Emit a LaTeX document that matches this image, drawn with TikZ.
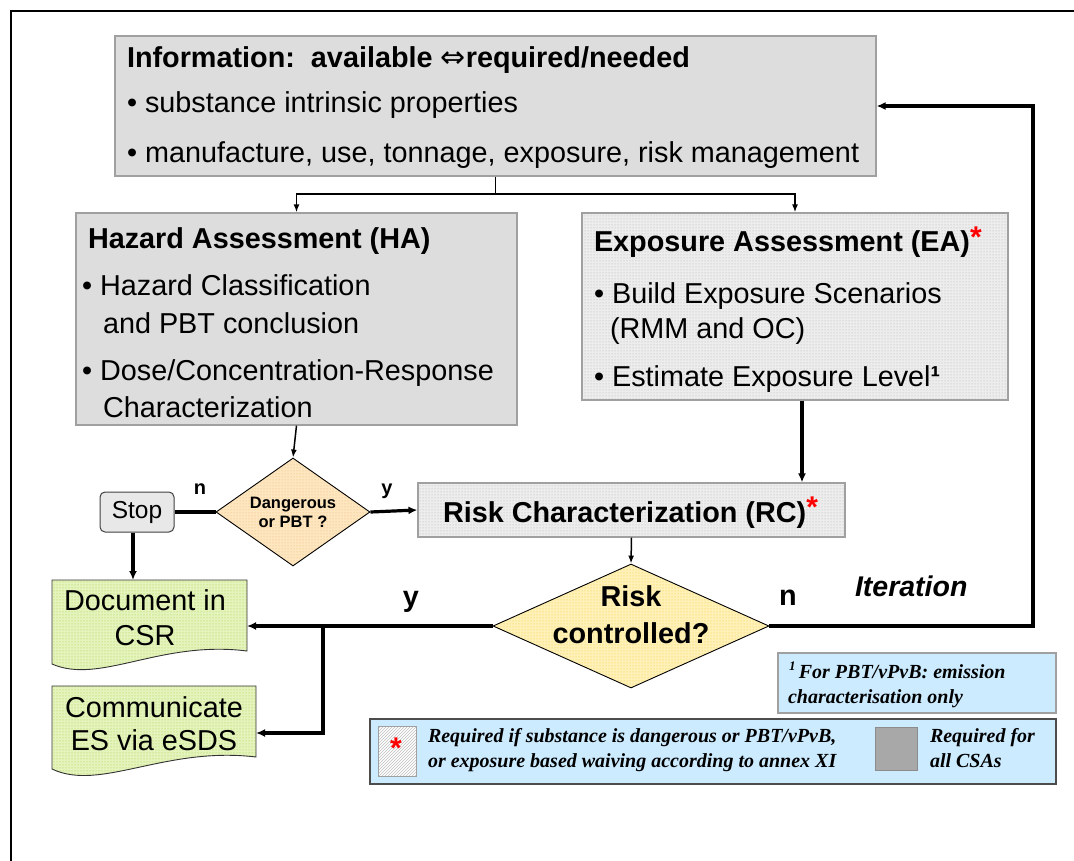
\documentclass[tikz,border=0pt]{standalone}
\usepackage{fontspec}
\setmainfont{Liberation Sans}
\newfontfamily\tnr{Liberation Serif}
\newfontfamily\dvs{DejaVu Sans}
\usetikzlibrary{arrows.meta,shapes.geometric,patterns,calc}
\newcommand\myfs[1]{\fontsize{#1}{#1}\selectfont}
\newcommand\redstar{{\color{red}\myfs{30}\raisebox{5pt}{*}}}
\definecolor{infogray}{HTML}{DDDDDD}
\definecolor{boxborder}{HTML}{A0A0A0}
\definecolor{dotbase}{HTML}{EDEDED}
\definecolor{dotgray}{HTML}{B0B0B0}
\definecolor{peachbase}{HTML}{FDE6C0}
\definecolor{peachdot}{HTML}{EFB868}
\definecolor{yellbase}{HTML}{FFF1B8}
\definecolor{yelldot}{HTML}{F2CB3A}
\definecolor{greenbase}{HTML}{E4F4BC}
\definecolor{greendot}{HTML}{A2CC3E}
\definecolor{lblue}{HTML}{CCEBFF}
\definecolor{stopfill}{HTML}{E8E8E8}
\definecolor{legendgray}{HTML}{A8A8A8}
\begin{document}
\begin{tikzpicture}[x=1pt,y=-1pt,
  txt/.style={anchor=base west,inner sep=0pt,outer sep=0pt},
  ctxt/.style={anchor=base,inner sep=0pt,outer sep=0pt},
  graybox/.style={draw=boxborder,line width=1.2pt,fill=infogray,inner sep=0pt},
  dotbox/.style={draw=boxborder,line width=1.2pt,preaction={fill=dotbase},pattern=dots,pattern color=dotgray,inner sep=0pt},
  peachdia/.style={diamond,draw=black,line width=0.9pt,preaction={fill=peachbase},pattern=dots,pattern color=peachdot,inner sep=0pt},
  yelldia/.style={diamond,draw=black,line width=0.9pt,preaction={fill=yellbase},pattern=dots,pattern color=yelldot,inner sep=0pt},
  docfill/.style={draw=black!80,line width=0.9pt,preaction={fill=greenbase},pattern=dots,pattern color=greendot},
  anchorbox/.style={inner sep=0pt,outer sep=0pt,draw=none},
  bluebox/.style={fill=lblue,draw=boxborder,line width=1.2pt,inner sep=0pt},
  thinarrow/.style={line width=1.5pt,-{Latex[length=8pt,width=6pt]}},
  thickarrow/.style={line width=3.2pt,-{Latex[length=9pt,width=8pt]}},
  thickline/.style={line width=3.2pt},
  thinline/.style={line width=1.5pt},
  bodyfont/.style={font=\myfs{28.8}},
  headfont/.style={font=\bfseries\myfs{28.8}},
  legfont/.style={font=\tnr\bfseries\itshape\myfs{20}}
]
\useasboundingbox (0,0) rectangle (1074,861);
% outer frame
\coordinate (fbl) at (11,861);
\coordinate (ftl) at (11,11);
\coordinate (ftr) at (1074,11);
\draw[line width=2pt] (fbl) -- (ftl) -- (ftr);

% Information box
\node[graybox,minimum width=761pt,minimum height=140pt] (info) at (495.5,106) {};
\node[txt,headfont] (infot) at (127,68) {Information:\ \ available {\dvs\mdseries\myfs{30}⇔}required/needed};
\node[txt,bodyfont] (infob1) at (127,113) {• substance intrinsic properties};
\node[txt,bodyfont] (infob2) at (127,163) {• manufacture, use, tonnage, exposure, risk management};

% Hazard assessment
\node[graybox,minimum width=441pt,minimum height=212pt] (ha) at (296.5,319) {};
\node[txt,headfont] (hat) at (88,249) {Hazard Assessment (HA)};
\node[txt,bodyfont] (hab1) at (82,295) {• Hazard Classification};
\node[txt,bodyfont] (hab1b) at (103,333) {and PBT conclusion};
\node[txt,bodyfont] (hab2) at (82,380) {• Dose/Concentration-Response};
\node[txt,bodyfont] (hab2b) at (103,417) {Characterization};

% Exposure assessment
\node[dotbox,minimum width=426pt,minimum height=187pt] (ea) at (795,306.5) {};
\node[txt,headfont] (eat) at (594,252) {Exposure Assessment (EA)\redstar};
\node[txt,bodyfont] (eab1) at (594,303) {• Build Exposure Scenarios};
\node[txt,bodyfont] (eab1b) at (610,338) {(RMM and OC)};
\node[txt,bodyfont] (eab2) at (594,386) {• Estimate Exposure Level{\bfseries¹}};

% Dangerous diamond
\node[peachdia,minimum width=154pt,minimum height=108pt] (d) at (293,512) {};
\node[ctxt,font=\bfseries\myfs{16.5}] (dt1) at (293,508) {Dangerous};
\node[ctxt,font=\bfseries\myfs{16.5}] (dt2) at (293,527) {or PBT ?};

% Stop
\node[draw=black!75,line width=1pt,fill=stopfill,rounded corners=5pt,minimum width=74pt,minimum height=40pt,inner sep=0pt,font=\myfs{24.5}] (stop) at (137,512) {Stop};

% Risk characterization
\node[dotbox,minimum width=427pt,minimum height=54pt] (rc) at (631.5,510) {};
\node[txt,headfont] (rct) at (443,522) {Risk Characterization (RC)\redstar};

% Risk controlled diamond
\node[yelldia,minimum width=276pt,minimum height=124pt] (r) at (631,626) {};
\node[ctxt,headfont] (rt1) at (631,606) {Risk};
\node[ctxt,headfont] (rt2) at (631,643) {controlled?};

% Document in CSR
\node[anchorbox,minimum width=195pt,minimum height=71pt] (doc) at (149.5,615.5) {};
\path[docfill] (doc.north west) -- (doc.north east) -- (doc.south east)
  .. controls (160,640) and (100,685) .. (52,664) -- cycle;
\node[ctxt,bodyfont] (doct1) at (145,610) {Document in};
\node[ctxt,bodyfont] (doct2) at (145,645) {CSR};

% Communicate ES via eSDS
\node[anchorbox,minimum width=204pt,minimum height=71pt] (comm) at (154,721.5) {};
\path[docfill] (comm.north west) -- (comm.north east) -- (comm.south east)
  .. controls (165,746) and (100,792) .. (52,769) -- cycle;
\node[ctxt,bodyfont] (commt1) at (154,717) {Communicate};
\node[ctxt,bodyfont] (commt2) at (154,750) {ES via eSDS};

% Footnote box
\node[bluebox,minimum width=278pt,minimum height=60pt] (foot) at (917,683) {};
\node[txt,legfont] (foot1) at (789,678) {\raisebox{8pt}{\myfs{13}1}\,For PBT/vPvB: emission};
\node[txt,legfont] (foot2) at (788,703) {characterisation only};

% Legend box
\node[fill=lblue,draw=black!70,line width=1.3pt,inner sep=0pt,minimum width=686pt,minimum height=65pt] (leg) at (713,751.5) {};
\node[draw=boxborder,line width=1pt,preaction={fill=white},pattern=north east lines,pattern color=black!25,inner sep=0pt,minimum width=38pt,minimum height=50pt] (hatch) at (397,751) {};
\node[inner sep=0pt,text=red,font=\bfseries\myfs{30}] (hstar) at (396,748) {*};
\node[txt,legfont] (leg1) at (428,742) {Required if substance is dangerous or PBT/vPvB,};
\node[txt,legfont] (leg2) at (428,767) {or exposure based waiving according to annex XI};
\node[fill=legendgray,draw=black!45,line width=1pt,inner sep=0pt,minimum width=42pt,minimum height=43pt] (gsq) at (896,748.5) {};
\node[txt,legfont] (leg3) at (930,742) {Required for};
\node[txt,legfont] (leg4) at (930,767) {all CSAs};

% labels
\node[ctxt,font=\bfseries\myfs{20}] (ln1) at (200,494) {n};
\node[ctxt,font=\bfseries\myfs{20}] (ly1) at (387,494) {y};
\node[ctxt,headfont] (ly2) at (411,606) {y};
\node[ctxt,headfont] (ln2) at (788,605) {n};
\node[txt,font=\bfseries\itshape\myfs{28.5}] (iter) at (855,596) {Iteration};

% connectors
\coordinate (j) at (495.5,194);
\draw[thinline] (info.south) -- (j);
\draw[thinarrow] (j) -| (ha.north);
\draw[thinarrow] (j) -| (ea.north);
\draw[thinarrow] (ha.south) -- (d.north);
\draw[thickline] (d.west) -- (stop.east);
\draw[thickarrow] (d.east) -- (rc.west);
\coordinate (eax) at (802,0);
\draw[thickarrow] (ea.south -| eax) -- (rc.north -| eax);
\draw[thinarrow] (rc.south) -- (r.north);
\coordinate (sx) at (133,0);
\draw[thickarrow] (stop.south -| sx) -- (doc.north -| sx);
\draw[thickarrow] (r.west) -- (r.west -| doc.east);
\coordinate (br) at (323,626);
\coordinate (cin) at (256,733);
\draw[thickarrow] (br) |- (cin);
\coordinate (lp) at (1033,106);
\draw[thickarrow] (r.east) -| (lp) -- (info.east);
\end{tikzpicture}
\end{document}
